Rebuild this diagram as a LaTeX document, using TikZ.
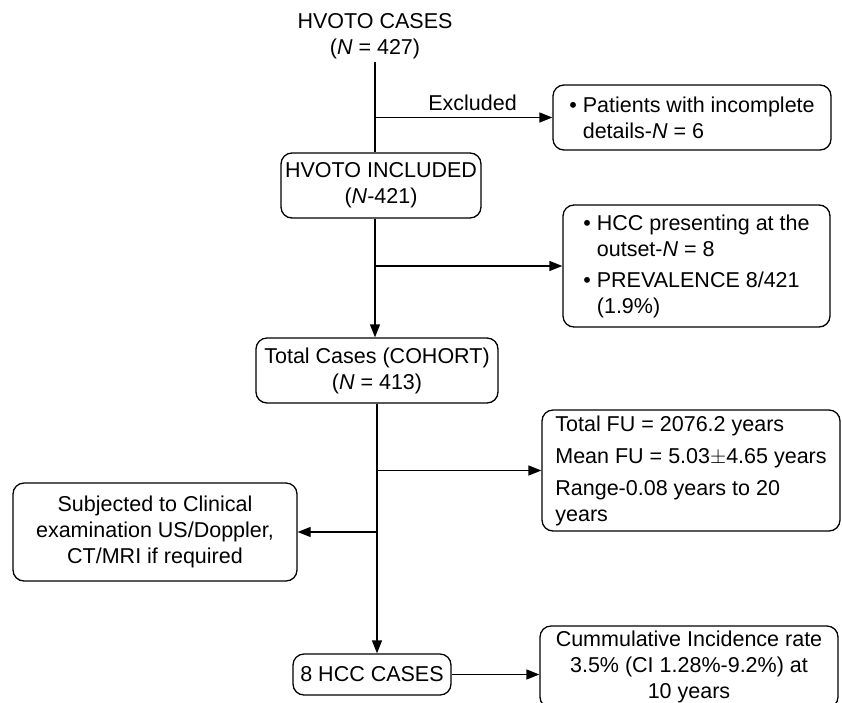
\documentclass[tikz,border=0pt]{standalone}
\usepackage{fontspec}
\setmainfont{Liberation Sans}
\usetikzlibrary{arrows.meta}

\newcommand{\chartfont}{\fontsize{21.5}{26}\selectfont}
\newcommand{\bul}{\textbullet\ }
\newcommand{\bulgap}{\hphantom{\textbullet\ }}

\tikzset{
  box/.style={draw, rounded corners=11pt, line width=1.3pt, inner sep=0pt, font=\chartfont},
  link/.style={line width=1.3pt, -{Triangle[length=13pt,width=10pt]}},
  trunk/.style={line width=1.3pt}
}

\begin{document}
\begin{tikzpicture}[x=1pt,y=-1pt]
        \useasboundingbox (0,0) rectangle (842,702);
        \clip (0,0) rectangle (842,702);
        %
        \node [font=\chartfont, align=center] (cases) at (375,36)
        {HVOTO CASES\\(\textit{N} = 427)};
        \node [box, align=center, minimum width=200pt, minimum height=65pt] (incl) at (381,185.5)
        {HVOTO INCLUDED\\(\textit{N}-421)};
        \node [box, align=center, minimum width=242pt, minimum height=65pt] (cohort) at (377,370.5)
        {Total Cases (COHORT)\\(\textit{N} = 413)};
        \node [box, align=center, minimum width=158pt, minimum height=41pt] (hcc) at (372,674.5)
        {8 HCC CASES};
        %
        \node [box, align=left, minimum width=278pt, minimum height=65pt] (excl) at (692,117.5)
        {\bul Patients with incomplete\\\bulgap details-\textit{N} = 6};
        \node [box, align=left, minimum width=267pt, minimum height=122pt] (prev) at (696.5,266)
        {\bul HCC presenting at the\\\bulgap outset-\textit{N} = 8\\[5pt]
         \bul PREVALENCE 8/421\\\bulgap (1.9\%)};
        \node [box, align=left, minimum width=298pt, minimum height=121pt] (fu) at (691,470.5)
        {Total FU = 2076.2 years\\[6pt]Mean FU = 5.03$\pm$4.65 years\\[6pt]
         Range-0.08 years to 20\\years};
        \node [box, align=center, minimum width=284pt, minimum height=98pt] (exam) at (155,532)
        {Subjected to Clinical\\examination US/Doppler,\\CT/MRI if required};
        \node [box, align=center, minimum width=298pt, minimum height=82pt] (cuminc) at (689,667)
        {Cummulative Incidence rate\\3.5\% (CI 1.28\%-9.2\%) at\\10 years};
        %
        \draw [trunk] (cases.south) -- (cases.south |- incl.north);
        \draw [link] (cases.south |- excl.west) -- (excl.west)
        node [pos=0.55, above=3pt, font=\chartfont] {Excluded};
        %
        \draw [link] (incl.south -| cases.south) -- (cases.south |- cohort.north);
        \draw [link] (cases.south |- prev.west) -- (prev.west);
        %
        \draw [link] (cohort.south) -- (cohort.south |- hcc.north);
        \draw [link] (cohort.south |- fu.west) -- (fu.west);
        \draw [link] (cohort.south |- exam.east) -- (exam.east);
        %
        \draw [link] (hcc.east) -- (hcc.east -| cuminc.west);
      \end{tikzpicture}
\end{document}
